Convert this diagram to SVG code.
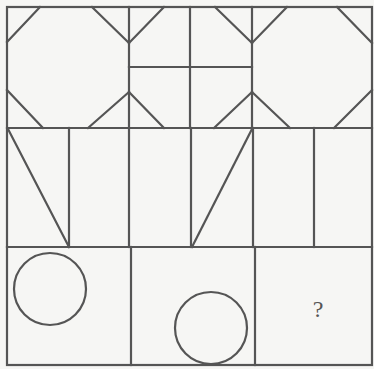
<svg xmlns="http://www.w3.org/2000/svg" width="374" height="369" viewBox="0 0 374 369">
<style>
.ln{stroke:#555;stroke-width:2.2;fill:none;stroke-linecap:square}
.q{font-family:"Liberation Serif",serif;font-size:24px;fill:#555}
</style>
<rect x="0" y="0" width="374" height="369" fill="#f6f6f4"/>
<g id="frame" class="ln">
<rect x="7" y="7" width="365" height="358"/>
<line x1="7" y1="128" x2="372" y2="128"/>
<line x1="7" y1="247" x2="372" y2="247"/>
</g>
<g id="cell-1-1" class="ln">
<line x1="129" y1="7" x2="129" y2="128"/>
<path d="M40 7L7 42M92 7L129 43M7 90L43 128M88 128L129 92"/>
</g>
<g id="cell-1-2" class="ln">
<line x1="190" y1="7" x2="190" y2="128"/>
<line x1="129" y1="67" x2="252" y2="67"/>
<path d="M129 43L164 7M215 7L252 43M129 92L164 128M252 92L214 128"/>
</g>
<g id="cell-1-3" class="ln">
<line x1="252" y1="7" x2="252" y2="128"/>
<path d="M252 43L287 7M337 7L372 43M252 92L290 128M372 90L334 128"/>
</g>
<g id="cell-2-1" class="ln">
<line x1="69" y1="128" x2="69" y2="247"/>
<line x1="129" y1="128" x2="129" y2="247"/>
<line x1="8" y1="129" x2="69" y2="247"/>
</g>
<g id="cell-2-2" class="ln">
<line x1="191" y1="128" x2="191" y2="247"/>
<line x1="253" y1="128" x2="253" y2="247"/>
<line x1="252" y1="129" x2="192" y2="247"/>
</g>
<g id="cell-2-3" class="ln">
<line x1="314" y1="128" x2="314" y2="247"/>
</g>
<g id="cell-3-1" class="ln">
<line x1="131" y1="247" x2="131" y2="365"/>
<circle cx="50" cy="289" r="36"/>
</g>
<g id="cell-3-2" class="ln">
<line x1="255" y1="247" x2="255" y2="365"/>
<circle cx="211" cy="328" r="36"/>
</g>
<g id="cell-3-3">
<text class="q" x="318" y="317" text-anchor="middle">?</text>
</g>
<g id="connectors"/>
</svg>
